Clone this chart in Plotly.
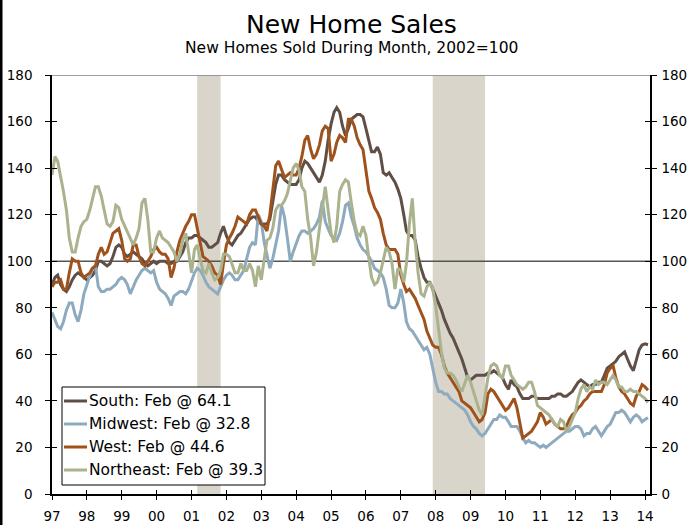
import pandas as pd
import plotly.graph_objects as go

# ---------------- data (index, 2002 = 100), monthly Jan-1997 .. Feb-2014 ----------------
south = [
    90, 93, 94, 90, 88, 87, 89, 92, 94, 95, 94, 93,            # 1997
    92, 93, 94, 96, 100, 100, 99, 98, 99, 102, 106, 107,       # 1998
    106, 103, 102, 103, 104, 103, 102, 101, 99, 98, 99, 100,   # 1999
    99, 100, 100, 100, 99, 99, 100, 100, 102, 104, 108, 110,   # 2000
    110, 111, 111, 110, 109, 108, 106, 106, 107, 108, 112, 115,  # 2001
    111, 108, 107, 109, 111, 112, 114, 116, 118, 119, 119, 117,  # 2002
    116, 116, 116, 118, 125, 133, 137, 137, 135, 134, 133, 133,  # 2003
    133, 135, 140, 143, 142, 140, 138, 136, 134, 137, 143, 152,  # 2004
    159, 164, 166, 164, 158, 154, 157, 161, 162, 163, 163, 162,  # 2005
    157, 152, 147, 147, 149, 146, 138, 137, 138, 136, 134, 131,  # 2006
    127, 120, 113, 111, 111, 109, 102, 97, 93, 91, 91, 88,       # 2007
    85, 82, 79, 75, 72, 69, 67, 64, 61, 58, 54, 50,              # 2008
    49, 50, 51, 51, 51, 51, 52, 52, 53, 52, 51, 50,              # 2009
    47, 45, 49, 47, 46, 43, 41, 41, 41, 42, 42, 41,              # 2010
    41, 41, 41, 41, 42, 42, 43, 43, 42, 42, 43, 44,              # 2011
    46, 48, 49, 48, 47, 46, 47, 47, 48, 48, 51, 54,              # 2012
    55, 56, 57, 59, 60, 61, 58, 55, 53, 58, 62, 64,              # 2013
    64.5, 64.1,                                                  # 2014
]
midwest = [
    78, 75, 72, 71, 74, 79, 82, 82, 77, 74, 79, 86,
    90, 94, 97, 98, 89, 87, 87, 88, 88, 89, 90, 92,
    93, 92, 90, 86, 89, 92, 94, 96, 97, 96, 95, 96,
    91, 88, 87, 86, 84, 81, 85, 86, 87, 87, 86, 88,
    92, 95, 97, 96, 94, 91, 89, 88, 87, 86, 89, 92,
    94, 95, 94, 92, 92, 94, 96, 101, 106, 108, 107, 120,
    117, 108, 103, 97, 101, 108, 113, 124, 119, 110, 100, 104,
    108, 111, 113, 113, 112, 113, 114, 116, 119, 126, 117, 114,
    111, 110, 109, 112, 117, 124, 125, 119, 115, 110, 107, 105,
    104, 102, 100, 97, 96, 95, 93, 88, 81, 80, 80, 82,
    88, 82, 74, 71, 70, 68, 66, 64, 62, 63, 60, 54,
    48, 44, 44, 43, 43, 41, 40, 39, 38, 37, 36, 34,
    31, 29, 28, 26, 25, 26, 28, 30, 32, 32, 34, 33,
    33, 31, 29, 29, 29, 27, 24, 22, 23, 22, 22, 21,
    20, 21, 20, 21, 22, 23, 24, 25, 26, 27, 27, 28,
    29, 29, 28, 25, 26, 26, 28, 29, 27, 25, 27, 29,
    30, 33, 35, 35, 36, 35, 33, 31, 33, 34, 33, 31,
    32, 32.8,
]
west = [
    89, 91, 91, 92, 88, 88, 95, 101, 100, 100, 95, 93,
    94, 95, 97, 98, 103, 106, 103, 104, 108, 112, 113, 114,
    109, 101, 100, 101, 107, 107, 102, 99, 98, 100, 102, 105,
    106, 104, 103, 103, 101, 93, 97, 104, 109, 112, 115, 117,
    120, 120, 114, 107, 102, 101, 100, 98, 95, 94, 90, 99,
    107, 110, 112, 115, 119, 118, 117, 116, 120, 122, 122, 119,
    116, 115, 113, 120, 131, 141, 143, 139, 136, 137, 138, 137,
    137, 140, 145, 152, 154, 148, 144, 146, 150, 156, 158, 157,
    143, 146, 151, 154, 153, 151, 161, 161, 158, 153, 150, 148,
    140, 130, 127, 123, 121, 118, 112, 107, 105, 105, 105, 103,
    94, 90, 87, 88, 86, 84, 81, 78, 75, 70, 67, 64,
    63, 63, 60, 55, 52, 50, 48, 46, 44, 40, 39, 38,
    37, 35, 33, 31, 32, 35, 43, 45, 44, 42, 40, 38,
    36, 37, 39, 41, 37, 31, 24, 25, 26, 27, 29, 31,
    35, 33, 30, 31, 32, 30, 29, 28, 28, 29, 32, 34,
    35, 37, 38, 40, 41, 43, 44, 44, 44, 44, 47, 52,
    54, 55, 50, 46, 44, 43, 41, 39, 38, 42, 44, 47,
    46, 44.6,
]
northeast = [
    137, 145, 143, 137, 130, 122, 110, 104, 104, 110, 115, 117,
    118, 122, 127, 132, 132, 128, 122, 116, 115, 117, 124, 123,
    118, 115, 113, 110, 107, 110, 114, 125, 127, 118, 104, 104,
    110, 113, 110, 109, 108, 106, 104, 100, 103, 109, 112, 104,
    95, 105, 107, 101, 96, 95, 99, 95, 92, 93, 96, 103,
    103, 102, 99, 95, 95, 99, 96, 96, 99, 96, 89, 98,
    92, 100, 109, 110, 114, 122, 124, 124, 126, 129, 135, 140,
    142, 139, 132, 130, 118, 110, 98, 104, 114, 124, 132, 122,
    112, 108, 115, 130, 133, 135, 134, 125, 117, 112, 111, 115,
    111, 101, 93, 90, 91, 95, 101, 106, 104, 99, 88, 97,
    96, 91, 99, 116, 127, 108, 95, 86, 85, 89, 91, 88,
    81, 70, 61, 54, 52, 52, 51, 49, 46, 44, 48, 51,
    48, 44, 40, 36, 34, 42, 50, 55, 56, 55, 51, 50,
    55, 55, 51, 49, 47, 46, 45, 46, 48, 48, 44, 38,
    37, 36, 35, 34, 32, 30, 29, 32, 31, 27, 29, 32,
    35, 41, 45, 47, 44, 46, 45, 49, 47, 48, 48, 47,
    49, 51, 49, 46, 46, 44, 44, 45, 44, 44, 43, 42,
    41, 39.3,
]

series_labels = ["South: Feb @ 64.1", "Midwest: Feb @ 32.8",
                 "West: Feb @ 44.6", "Northeast: Feb @ 39.3"]
series_colors = ["#5f4f46", "#8eaabf", "#9f521c", "#aab38d"]
recession_starts = ["2001-03-01", "2007-12-01"]
recession_ends = ["2001-11-01", "2009-06-01"]
year_labels = ["97", "98", "99", "00", "01", "02", "03", "04", "05",
               "06", "07", "08", "09", "10", "11", "12", "13", "14"]
y_ticks = [0, 20, 40, 60, 80, 100, 120, 140, 160, 180]

title_text = "New Home Sales"
subtitle_text = "New Homes Sold During Month, 2002=100"

# ---------------- figure ----------------
FONT = "DejaVu Sans"
W, H = 694, 525
ML, MR, MT, MB = 52, 44, 75, 31
PW, PH = W - ML - MR, H - MT - MB

def px_x(p):
    return (p - ML) / PW

def px_y(p):
    return (H - MB - p) / PH

dates = pd.date_range("1997-01-01", periods=len(south), freq="MS")
tick_dates = pd.date_range("1997-01-01", periods=len(year_labels), freq="YS")
x_range = ["1997-01-01", "2014-02-22"]

fig = go.Figure()
for vals, color in zip([south, midwest, west, northeast], series_colors):
    fig.add_trace(go.Scatter(x=dates, y=vals, mode="lines",
                             line=dict(color=color, width=3),
                             showlegend=False, hoverinfo="skip"))

# dummy traces so the overlay axes (inside tick marks) get drawn
for xa, ya in [("x2", "y"), ("x", "y2"), ("x", "y3"), ("x", "y4")]:
    fig.add_trace(go.Scatter(x=[dates[0]], y=[None], xaxis=xa, yaxis=ya,
                             mode="lines", showlegend=False, hoverinfo="skip"))

tickfont = dict(family=FONT, size=13.5, color="#000000")
common_x = dict(type="date", range=x_range, tickvals=tick_dates, ticktext=year_labels,
                showgrid=False, zeroline=False, tickcolor="#000000", tickwidth=1,
                automargin=False)
common_y = dict(range=[0, 180], tickvals=y_ticks, showgrid=False, zeroline=False,
                tickcolor="#000000", tickwidth=1, automargin=False)

fig.update_layout(
    width=W, height=H,
    margin=dict(l=ML, r=MR, t=MT, b=MB, autoexpand=False),
    paper_bgcolor="white", plot_bgcolor="white",
    showlegend=False,
    xaxis=dict(**common_x, ticks="outside", ticklen=4, showline=True,
               linecolor="#000000", linewidth=1.5, tickfont=tickfont,
               ticklabelstandoff=5),
    xaxis2=dict(**common_x, overlaying="x", anchor="y", side="bottom",
                ticks="inside", ticklen=4, showticklabels=False, showline=False),
    yaxis=dict(**common_y, side="left", ticks="outside", ticklen=5, showline=True,
               linecolor="#000000", linewidth=1.5, tickfont=tickfont,
               ticklabelstandoff=10),
    yaxis2=dict(**common_y, overlaying="y", anchor="x", side="right", ticks="outside",
                ticklen=5, showline=True, linecolor="#000000", linewidth=1.5,
                tickfont=tickfont, ticklabelstandoff=2),
    yaxis3=dict(**common_y, overlaying="y", anchor="x", side="left", ticks="inside",
                ticklen=5, showticklabels=False, showline=False),
    yaxis4=dict(**common_y, overlaying="y", anchor="x", side="right", ticks="inside",
                ticklen=5, showticklabels=False, showline=False),
)

shapes = []
for s, e in zip(recession_starts, recession_ends):
    shapes.append(dict(type="rect", xref="x", yref="paper", x0=s, x1=e, y0=0, y1=1,
                       fillcolor="#d9d5ca", line=dict(width=0), layer="below"))
shapes.append(dict(type="line", xref="paper", yref="y", x0=0, x1=1, y0=100, y1=100,
                   line=dict(color="#555555", width=1.4), layer="below"))
shapes.append(dict(type="line", xref="paper", yref="y", x0=0, x1=1, y0=180, y1=180,
                   line=dict(color="#808080", width=1.6), layer="above"))
# black edge at the far left of the picture
shapes.append(dict(type="rect", xref="paper", yref="paper",
                   x0=px_x(0), x1=px_x(2.5), y0=px_y(H), y1=px_y(0),
                   fillcolor="#000000", line=dict(width=0), layer="above"))

# legend box
shapes.append(dict(type="rect", xref="paper", yref="paper",
                   x0=px_x(62), x1=px_x(265), y0=px_y(485), y1=px_y(387),
                   fillcolor="white", line=dict(color="#000000", width=1), layer="above"))
annotations = []
for i, (lab, col) in enumerate(zip(series_labels, series_colors)):
    yy = px_y(401 + 23 * i)
    shapes.append(dict(type="line", xref="paper", yref="paper",
                       x0=px_x(64), x1=px_x(87), y0=yy, y1=yy,
                       line=dict(color=col, width=3), layer="above"))
    annotations.append(dict(text=lab, xref="paper", yref="paper", x=px_x(87), y=yy,
                            xanchor="left", yanchor="middle", showarrow=False,
                            font=dict(family=FONT, size=15.5, color="#000000")))

annotations.append(dict(text=title_text, xref="paper", yref="paper", x=px_x(351), y=px_y(25),
                        xanchor="center", yanchor="middle", showarrow=False,
                        font=dict(family=FONT, size=25, color="#000000")))
annotations.append(dict(text=subtitle_text, xref="paper", yref="paper", x=px_x(351), y=px_y(48),
                        xanchor="center", yanchor="middle", showarrow=False,
                        font=dict(family=FONT, size=15.5, color="#000000")))

fig.update_layout(shapes=shapes, annotations=annotations)
fig.write_html("out.html")
